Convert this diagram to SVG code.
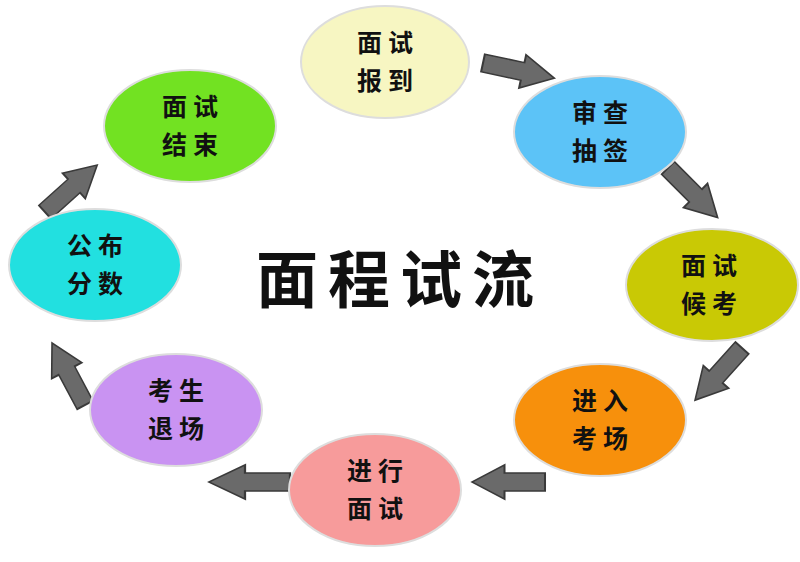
<svg xmlns="http://www.w3.org/2000/svg" width="800" height="562" viewBox="0 0 800 562">
<defs>
<style>
.n{stroke:#ddd;stroke-width:2}
.t{font-family:"Noto Sans CJK SC",sans-serif;font-size:25px;font-weight:bold;fill:#111;text-anchor:middle;letter-spacing:6px}
.a{fill:#6a6a6a;stroke:#3a3a3a;stroke-width:1.5}
</style>
<polygon id="arr" class="a" points="0,-9 30,-9 30,-17 54,0 30,17 30,9 0,9"/>
</defs>
<rect width="800" height="562" fill="#fff"/>
<g id="connectors">
<use href="#arr" transform="translate(483,63) rotate(12) scale(1.35,1)"/>
<use href="#arr" transform="translate(668,168) rotate(45) scale(1.3,1)"/>
<use href="#arr" transform="translate(742,348) rotate(132) scale(1.3,1)"/>
<use href="#arr" transform="translate(545,482) rotate(180) scale(1.35,1)"/>
<use href="#arr" transform="translate(290,482) rotate(180) scale(1.5,1)"/>
<use href="#arr" transform="translate(85,405) rotate(-118) scale(1.3,1)"/>
<use href="#arr" transform="translate(45,212) rotate(-42) scale(1.3,1)"/>
</g>
<g id="n1"><ellipse class="n" cx="385" cy="62" rx="84" ry="56" fill="#f7f6c2"/><text class="t" x="388" y="52">面试</text><text class="t" x="388" y="90">报到</text></g>
<g id="n2"><ellipse class="n" cx="600" cy="132" rx="86" ry="56" fill="#5cc3f7"/><text class="t" x="603" y="122">审查</text><text class="t" x="603" y="160">抽签</text></g>
<g id="n3"><ellipse class="n" cx="712" cy="285" rx="86" ry="56" fill="#c9c905"/><text class="t" x="712" y="275">面试</text><text class="t" x="712" y="313">候考</text></g>
<g id="n4"><ellipse class="n" cx="600" cy="420" rx="86" ry="56" fill="#f7900c"/><text class="t" x="603" y="410">进入</text><text class="t" x="603" y="448">考场</text></g>
<g id="n5"><ellipse class="n" cx="375" cy="490" rx="86" ry="56" fill="#f79b9b"/><text class="t" x="378" y="480">进行</text><text class="t" x="378" y="518">面试</text></g>
<g id="n6"><ellipse class="n" cx="176" cy="410" rx="86" ry="56" fill="#c993f2"/><text class="t" x="179" y="400">考生</text><text class="t" x="179" y="438">退场</text></g>
<g id="n7"><ellipse class="n" cx="95" cy="265" rx="86" ry="56" fill="#22e0e0"/><text class="t" x="98" y="255">公布</text><text class="t" x="98" y="293">分数</text></g>
<g id="n8"><ellipse class="n" cx="190" cy="126" rx="86" ry="56" fill="#72e222"/><text class="t" x="193" y="116">面试</text><text class="t" x="193" y="154">结束</text></g>
<text x="400" y="303" font-family="Noto Sans CJK SC,sans-serif" font-size="62" font-weight="bold" fill="#111" text-anchor="middle" letter-spacing="10">面程试流</text>
</svg>
